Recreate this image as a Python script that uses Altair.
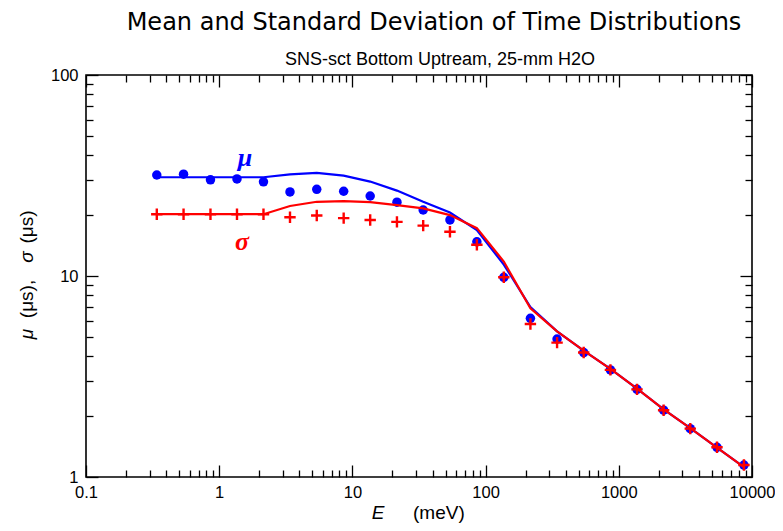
import altair as alt
import pandas as pd

# ---------------- data ----------------
energy = [0.34, 0.54, 0.86, 1.36, 2.15, 3.4, 5.4, 8.6, 13.6, 21.6, 34, 54,
          86, 137, 217, 344, 545, 865, 1370, 2170, 3440, 5460, 8700]
mu_points = [31.8, 32.1, 30.1, 30.4, 29.4, 26.2, 27.0, 26.4, 25.0, 23.3, 21.3, 19.0,
             14.8, 9.85, 6.16, 4.86, 4.16, 3.41, 2.73, 2.15, 1.74, 1.405, 1.147]
sigma_points = [20.3, 20.3, 20.3, 20.3, 20.3, 19.6, 20.0, 19.4, 19.0, 18.6, 17.8, 16.6,
                14.3, 9.85, 5.77, 4.66, 4.16, 3.41, 2.73, 2.15, 1.74, 1.405, 1.147]
mu_curve = [31.0, 31.0, 31.0, 31.0, 31.0, 32.0, 32.6, 31.6, 29.5, 26.6, 23.4, 20.7,
            16.9, 11.4, 7.0, 5.3, 4.25, 3.45, 2.75, 2.17, 1.75, 1.40, 1.12]
sigma_curve = [20.3, 20.3, 20.3, 20.3, 20.3, 22.3, 23.4, 23.6, 23.3, 22.5, 21.7, 20.1,
               17.3, 11.8, 6.9, 5.3, 4.25, 3.45, 2.75, 2.17, 1.75, 1.40, 1.12]

x_major = [0.1, 1, 10, 100, 1000, 10000]
y_major = [1, 10, 100]
x_minor = [0.2, 0.3, 0.4, 0.5, 0.6, 0.7, 0.8, 0.9,
           2, 3, 4, 5, 6, 7, 8, 9,
           20, 30, 40, 50, 60, 70, 80, 90,
           200, 300, 400, 500, 600, 700, 800, 900,
           2000, 3000, 4000, 5000, 6000, 7000, 8000, 9000]
y_minor = [2, 3, 4, 5, 6, 7, 8, 9, 20, 30, 40, 50, 60, 70, 80, 90]

series_labels = ["μ", "σ"]
label_E = [1.56, 1.48]
label_v = [38.5, 14.8]

title_text = "Mean and Standard Deviation of Time Distributions"
subtitle_text = "SNS-sct Bottom Uptream, 25-mm H2O"

BLUE = "#0000ff"
RED = "#ff0000"
PLUS = "M-1,0L1,0M0,-1L0,1"

df = pd.DataFrame({"E": energy, "mu": mu_points, "sig": sigma_points,
                   "mu_c": mu_curve, "sig_c": sigma_curve})

xs = alt.Scale(type="log", domain=[0.1, 10000], nice=False)
ys = alt.Scale(type="log", domain=[1, 100], nice=False)


def ax(orient, values, size, labels, **kw):
    return alt.Axis(orient=orient, values=values, tickSize=size, offset=-size,
                    labels=labels, domain=False, grid=False, title=None,
                    ticks=True, tickColor="black", tickWidth=1.3,
                    labelFlush=False, labelOverlap=False, **kw)


base = alt.Chart(df)

mu_line = base.mark_line(color=BLUE, strokeWidth=2.2).encode(
    x=alt.X("E:Q", scale=xs, axis=ax("bottom", x_major, 12, True, labelFontSize=16.5,
                                     labelPadding=7, format="~g")),
    y=alt.Y("mu_c:Q", scale=ys, axis=ax("left", y_major, 12, True, labelFontSize=16.5,
                                        labelPadding=8, format="~g")),
)
mu_pts = base.mark_point(shape="circle", filled=True, size=90, color=BLUE, opacity=1).encode(
    x=alt.X("E:Q", scale=xs, axis=ax("top", x_major, 12, False)),
    y=alt.Y("mu:Q", scale=ys, axis=ax("right", y_major, 12, False)),
)
sig_line = base.mark_line(color=RED, strokeWidth=2.2).encode(
    x=alt.X("E:Q", scale=xs, axis=ax("bottom", x_minor, 7, False)),
    y=alt.Y("sig_c:Q", scale=ys, axis=ax("left", y_minor, 7, False)),
)
sig_pts = base.mark_point(shape=PLUS, filled=False, size=130, color=RED,
                          strokeWidth=2.4, opacity=1).encode(
    x=alt.X("E:Q", scale=xs, axis=ax("top", x_minor, 7, False)),
    y=alt.Y("sig:Q", scale=ys, axis=ax("right", y_minor, 7, False)),
)

lab_df = pd.DataFrame({"E": label_E, "v": label_v, "t": series_labels, "c": [BLUE, RED]})
series_text = alt.Chart(lab_df).mark_text(
    font="Liberation Serif", fontStyle="italic", fontWeight="bold", fontSize=26,
    baseline="middle", align="center").encode(
    x=alt.X("E:Q", scale=xs, axis=None),
    y=alt.Y("v:Q", scale=ys, axis=None),
    text="t:N",
    color=alt.Color("c:N", scale=None),
)


def txt(s, x, y, **kw):
    return alt.Chart(pd.DataFrame({"t": [s]})).mark_text(**kw).encode(
        x=alt.value(x), y=alt.value(y), text="t:N")


SANS = "Liberation Sans"
title = txt(title_text, 348, -45, font="DejaVu Sans", fontSize=24, align="center",
            baseline="alphabetic", color="black")
subtitle = txt(subtitle_text, 354, -10, font=SANS, fontSize=18, align="center",
               baseline="alphabetic", color="black")
xt_E = txt("E", 292, 438, font=SANS, fontSize=19, fontStyle="italic", align="center",
           baseline="middle", color="black")
xt_u = txt("(meV)", 327, 438, font=SANS, fontSize=19, align="left",
           baseline="middle", color="black")
yt1 = txt("μ", -59, 259, font=SANS, fontSize=19, fontStyle="italic", angle=270,
          align="center", baseline="middle", color="black")
yt2 = txt("(μs),", -59, 224, font=SANS, fontSize=19, angle=270,
          align="center", baseline="middle", color="black")
yt3 = txt("σ", -59, 182, font=SANS, fontSize=19, fontStyle="italic", angle=270,
          align="center", baseline="middle", color="black")
yt4 = txt("(μs)", -59, 152, font=SANS, fontSize=19, angle=270,
          align="center", baseline="middle", color="black")

chart = alt.layer(
    mu_line, mu_pts, sig_line, sig_pts, series_text,
    title, subtitle, xt_E, xt_u, yt1, yt2, yt3, yt4,
).resolve_axis(x="independent", y="independent").properties(
    width=666, height=402,
    autosize=alt.AutoSizeParams(type="none"),
    padding={"left": 78, "top": 67, "right": 23, "bottom": 46},
).configure_view(stroke="black", strokeWidth=1.6).configure_axis(
    labelFont=SANS, labelColor="black"
)

chart.save("out.html", embed_options={"renderer": "svg", "actions": False})
